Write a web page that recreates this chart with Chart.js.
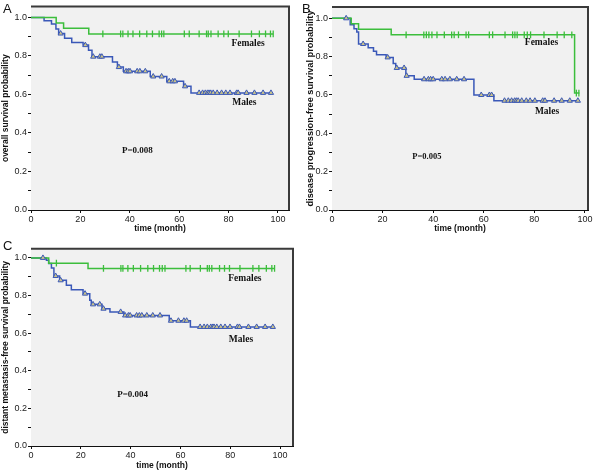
<!DOCTYPE html>
<html><head><meta charset="utf-8">
<script src="https://cdn.jsdelivr.net/npm/chart.js@4/dist/chart.umd.min.js"></script>
<style>
html,body{margin:0;padding:0;background:#fff}
body{width:600px;height:472px;position:relative;overflow:hidden}
.pane{position:absolute}
.pane canvas{display:block}
.lab{position:absolute;font:13px/13px "Liberation Sans",Arial,sans-serif;color:#111}
</style></head><body>
<div class="pane" style="left:0;top:0;width:300px;height:236px"><canvas id="cA"></canvas></div>
<div class="pane" style="left:300px;top:0;width:300px;height:236px"><canvas id="cB"></canvas></div>
<div class="pane" style="left:0;top:236px;width:300px;height:236px"><canvas id="cC"></canvas></div>
<div class="lab" style="left:3px;top:1.5px">A</div>
<div class="lab" style="left:302px;top:1.5px">B</div>
<div class="lab" style="left:3px;top:239px">C</div>
<script>
// ---------- data ----------
const timeTicks = [0, 20, 40, 60, 80, 100];
const probTicks = [0.0, 0.2, 0.4, 0.6, 0.8, 1.0];

// Panel A: overall survival
const A_femTimes = [0, 10.2, 13.2, 23.4, 98.1];
const A_femProbs = [1, 0.971, 0.943, 0.914, 0.914];
const A_femCensor = [29.1, 36.3, 37.2, 39.3, 41.3, 44.0, 46.9, 49.2, 51.9, 52.9, 53.8, 62.1, 64.1, 68.1, 71.1, 71.8, 72.9, 75.8, 78.1, 79.9, 84.3, 89.3, 92.5, 95, 97, 98.1];
const A_maleTimes = [0, 5.3, 8.3, 10.1, 11.2, 13.6, 16.5, 21.1, 23.3, 24.7, 33, 35, 37.4, 48.3, 55, 61.8, 64.8, 97.2];
const A_maleProbs = [1, 0.983, 0.966, 0.94, 0.916, 0.892, 0.869, 0.856, 0.829, 0.796, 0.768, 0.742, 0.72, 0.693, 0.668, 0.642, 0.608, 0.608];
const A_maleCensor = [12, 22, 25.2, 27.9, 28.7, 35.6, 38.5, 39.4, 40.1, 43, 44.1, 46.3, 49.5, 52.9, 56, 57.4, 58.3, 62.4, 68.1, 69.5, 70.6, 71.5, 72.1, 72.8, 73.8, 75.4, 77.2, 78.9, 80.6, 83.3, 83.9, 87.3, 90.5, 94, 97.2];

// Panel B: disease progression-free survival
const B_femTimes = [0, 7.6, 10.5, 23.4, 95.9, 97.8];
const B_femProbs = [1, 0.972, 0.943, 0.914, 0.61, 0.61];
const B_femCensor = [29.3, 36.3, 37.3, 38.3, 39.5, 41.5, 44.4, 47.3, 48.3, 50, 53, 54, 62.2, 63.5, 68.4, 71.4, 72.3, 73.2, 76, 77.2, 78.5, 83.8, 89, 91.8, 94.8, 96.6, 97.6];
const B_maleTimes = [0, 7.2, 8.7, 9.8, 10.5, 14.3, 16.4, 17.6, 21.4, 24.2, 25.2, 29.2, 32.5, 56.1, 64, 97.2];
const B_maleProbs = [1, 0.967, 0.946, 0.928, 0.866, 0.846, 0.828, 0.81, 0.796, 0.764, 0.741, 0.70, 0.682, 0.60, 0.57, 0.57];
const B_maleCensor = [5.6, 12.3, 22, 25.6, 28.5, 29.5, 36.4, 38.1, 39, 40, 43.4, 44.7, 46.6, 49.3, 52.2, 59, 62.2, 63.1, 68.2, 69.7, 71, 72.2, 72.9, 73.6, 75, 76.8, 78.3, 80.2, 83.3, 84.2, 87.8, 90.8, 94, 97.2];

// Panel C: distant metastasis-free survival
const C_femTimes = [0, 7.1, 22.9, 97.8];
const C_femProbs = [1, 0.972, 0.944, 0.944];
const C_femCensor = [10.2, 29.1, 36.1, 36.9, 38.9, 41.1, 44, 46.9, 49.2, 51.6, 52.7, 53.8, 62.2, 63.9, 68, 70.8, 71.6, 72.6, 75.7, 77.7, 79.7, 83.9, 89.1, 91.5, 94.5, 96.7, 97.8];
const C_maleTimes = [0, 6.2, 7.1, 8.2, 9.2, 11.5, 14.2, 16.2, 20.9, 23.6, 24.2, 28.5, 31.7, 37.3, 55.5, 64, 97.1];
const C_maleProbs = [1, 0.988, 0.97, 0.947, 0.904, 0.881, 0.855, 0.831, 0.81, 0.775, 0.753, 0.73, 0.713, 0.694, 0.666, 0.633, 0.633];
const C_maleCensor = [4.8, 9.9, 11.9, 21.7, 24.9, 27.6, 29.1, 36, 37.8, 39.1, 39.8, 42.4, 43.5, 44.5, 46.5, 48.9, 51.8, 56.2, 59.2, 61.4, 62.5, 67.9, 69.5, 70.8, 72.2, 73, 73.5, 74.6, 76.2, 77.9, 79.9, 82.9, 83.7, 87.3, 90.6, 94, 97.1];

const yTitles = ['overall survival probability', 'disease progression-free survival probability', 'distant metastasis-free survival probability'];
const xTitle = 'time (month)';
const pValues = ['P=0.008', 'P=0.005', 'P=0.004'];
const groupNames = ['Females', 'Males'];

// ---------- helpers ----------
const GREEN = '#3cbe3c', BLUE = '#3a58b8';
const pts = (ts, ps) => ts.map((t, i) => ({x: t, y: ps[i]}));
function levelAt(ts, ps, t) { let v = ps[0]; for (let i = 0; i < ts.length; i++) { if (ts[i] <= t) v = ps[i]; } return v; }
const censorPts = (cs, ts, ps) => cs.map(t => ({x: t, y: levelAt(ts, ps, t)}));

const framePlugin = {
  id: 'kmFrame',
  beforeDatasetsDraw(chart) {
    const {ctx, chartArea: a} = chart;
    ctx.save(); ctx.fillStyle = '#f1f1f1';
    ctx.fillRect(a.left, a.top, a.right - a.left, a.bottom - a.top);
    ctx.restore();
  },
  afterDraw(chart) {
    const {ctx, chartArea: a} = chart;
    ctx.save(); ctx.strokeStyle = '#3a3a3a'; ctx.lineWidth = 2;
    ctx.beginPath(); ctx.moveTo(a.left, a.top); ctx.lineTo(a.right, a.top); ctx.lineTo(a.right, a.bottom); ctx.stroke();
    ctx.restore();
  }
};
const textPlugin = {
  id: 'kmText',
  afterDatasetsDraw(chart, args, opts) {
    const {ctx, scales: {x, y}} = chart;
    ctx.save();
    (opts.items || []).forEach(it => {
      ctx.font = 'bold ' + it.size + 'px "Liberation Serif","Times New Roman",serif';
      ctx.fillStyle = '#111'; ctx.textAlign = 'center'; ctx.textBaseline = 'middle';
      ctx.fillText(it.text, x.getPixelForValue(it.t), y.getPixelForValue(it.s));
    });
    ctx.restore();
  }
};

function makeChart(id, cfg) {
  const datasets = [
    {data: censorPts(cfg.femC, cfg.femT, cfg.femP), showLine: false, pointStyle: 'line', rotation: 90, pointRadius: 3.4, borderColor: GREEN, borderWidth: 1.3, pointHoverRadius: 3.4},
    {data: censorPts(cfg.maleC, cfg.maleT, cfg.maleP), showLine: false, pointStyle: 'triangle', pointRadius: 3, borderColor: BLUE, backgroundColor: '#c9c38a', borderWidth: 1, pointHoverRadius: 3},
    {data: pts(cfg.femT, cfg.femP), showLine: true, stepped: true, borderColor: GREEN, borderWidth: 1.5, pointRadius: 0, fill: false},
    {data: pts(cfg.maleT, cfg.maleP), showLine: true, stepped: true, borderColor: BLUE, borderWidth: 1.5, pointRadius: 0, fill: false}
  ];
  return new Chart(document.getElementById(id), {
    type: 'scatter',
    data: {datasets},
    plugins: [framePlugin, textPlugin],
    options: {
      responsive: true, maintainAspectRatio: false, animation: false, devicePixelRatio: 1,
      layout: {padding: cfg.pad},
      plugins: {legend: {display: false}, tooltip: {enabled: false}, kmText: {items: cfg.texts}},
      scales: {
        x: {
          type: 'linear', min: 0, max: cfg.xMax,
          afterFit: s => { s.height = 26; },
          afterBuildTicks: s => { s.ticks = timeTicks.map(v => ({value: v})); },
          ticks: {font: {family: '"Liberation Sans",Arial,sans-serif', size: 9}, color: '#222', padding: 1, maxRotation: 0, callback: v => String(v)},
          grid: {drawOnChartArea: false, drawTicks: true, tickLength: 3, tickColor: '#111'},
          border: {color: '#111', width: 1},
          title: {display: true, text: xTitle, color: '#111', font: {family: '"Liberation Sans",Arial,sans-serif', size: cfg.titleSize, weight: 'bold'}, padding: {top: 0, bottom: cfg.xTitlePad}}
        },
        y: {
          type: 'linear', min: 0, max: cfg.yMax,
          afterFit: s => { s.width = cfg.yW; },
          afterBuildTicks: s => { const t = []; for (let i = 0; i <= 10; i++) t.push({value: i / 10}); s.ticks = t; },
          ticks: {font: {family: '"Liberation Sans",Arial,sans-serif', size: 9}, color: '#222', padding: 1,
            callback: v => { const k = Math.round(v * 10); return k % 2 === 0 ? probTicks[k / 2].toFixed(1) : ''; }},
          grid: {drawOnChartArea: false, drawTicks: true, tickLength: 3, tickColor: '#111'},
          border: {color: '#111', width: 1},
          title: {display: true, text: cfg.yTitle, color: '#111', font: {family: '"Liberation Sans",Arial,sans-serif', size: cfg.yTitleSize, weight: 'bold'}, padding: {top: cfg.yTitlePad, bottom: 0}}
        }
      }
    }
  });
}

makeChart('cA', {
  femT: A_femTimes, femP: A_femProbs, femC: A_femCensor, maleT: A_maleTimes, maleP: A_maleProbs, maleC: A_maleCensor,
  xMax: 104.5, yMax: 1.057, yW: 31, pad: {top: 5, right: 11, left: 0, bottom: 0},
  yTitle: yTitles[0], yTitleSize: 8.5, yTitlePad: 1, titleSize: 8.5, xTitlePad: 2,
  texts: [{text: groupNames[0], t: 87.9, s: 0.866, size: 9.5}, {text: groupNames[1], t: 86.4, s: 0.557, size: 9.5}, {text: pValues[0], t: 43.1, s: 0.309, size: 9}]
});
makeChart('cB', {
  femT: B_femTimes, femP: B_femProbs, femC: B_femCensor, maleT: B_maleTimes, maleP: B_maleProbs, maleC: B_maleCensor,
  xMax: 101.2, yMax: 1.059, yW: 32, pad: {top: 7, right: 12, left: 0, bottom: 0},
  yTitle: yTitles[1], yTitleSize: 9.2, yTitlePad: 4.5, titleSize: 8.5, xTitlePad: 2,
  texts: [{text: groupNames[0], t: 82.8, s: 0.871, size: 9.5}, {text: groupNames[1], t: 85, s: 0.516, size: 9.5}, {text: pValues[1], t: 37.5, s: 0.276, size: 8.5}]
});
makeChart('cC', {
  femT: C_femTimes, femP: C_femProbs, femC: C_femCensor, maleT: C_maleTimes, maleP: C_maleProbs, maleC: C_maleCensor,
  xMax: 105.2, yMax: 1.049, yW: 31, pad: {top: 12.7, right: 7, left: 0, bottom: 0},
  yTitle: yTitles[2], yTitleSize: 8.5, yTitlePad: 1, titleSize: 8.5, xTitlePad: 1,
  texts: [{text: groupNames[0], t: 85.9, s: 0.888, size: 9.5}, {text: groupNames[1], t: 84.3, s: 0.564, size: 9.5}, {text: pValues[2], t: 40.8, s: 0.271, size: 9}]
});
</script>
</body></html>
